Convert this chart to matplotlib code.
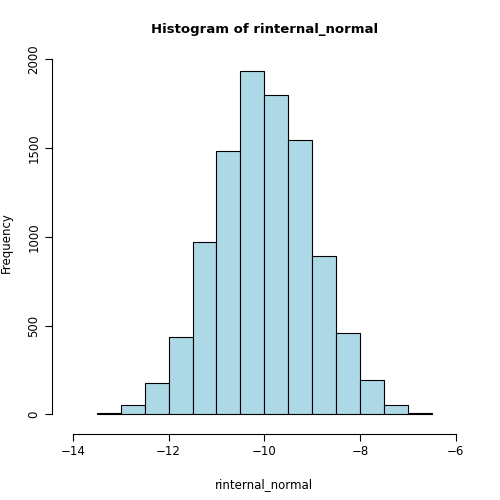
import matplotlib
matplotlib.use("Agg")
import matplotlib.pyplot as plt
import numpy as np

edges = np.arange(-13.5, -6.49, 0.5)
counts = [10, 51, 176, 437, 971, 1483, 1932, 1801, 1545, 892, 460, 193, 51, 8]
xticks = [-14, -12, -10, -8, -6]
yticks = [0, 500, 1000, 1500, 2000]

fig = plt.figure(figsize=(5, 5), dpi=100)
ax = fig.add_axes([57.6/500, 72/500, 413.4/500, 370.4/500])
ax.bar(edges[:-1], counts, width=0.5, align='edge', color='#ADD8E6', edgecolor='black', linewidth=0.8)
ax.set_xlim(-14.32, -5.68)
ax.set_ylim(-77, 2009)
for s in ['top', 'right']:
    ax.spines[s].set_visible(False)
ax.spines['bottom'].set_bounds(-14, -6)
ax.spines['left'].set_bounds(0, 2000)
ax.spines['left'].set_position(('outward', 4))
ax.spines['bottom'].set_position(('outward', 4))
ax.set_xticks(xticks)
ax.set_yticks(yticks)
ax.set_yticklabels([str(v) for v in yticks], rotation=90, va='center')
ax.tick_params(labelsize=8.5, length=5)
ax.set_xlabel('rinternal_normal', fontsize=8.5, labelpad=14)
ax.set_ylabel('Frequency', fontsize=8.5, labelpad=10)
ax.set_title('Histogram of rinternal_normal', fontsize=9.5, fontweight='bold', pad=18)
fig.savefig('out.png')
